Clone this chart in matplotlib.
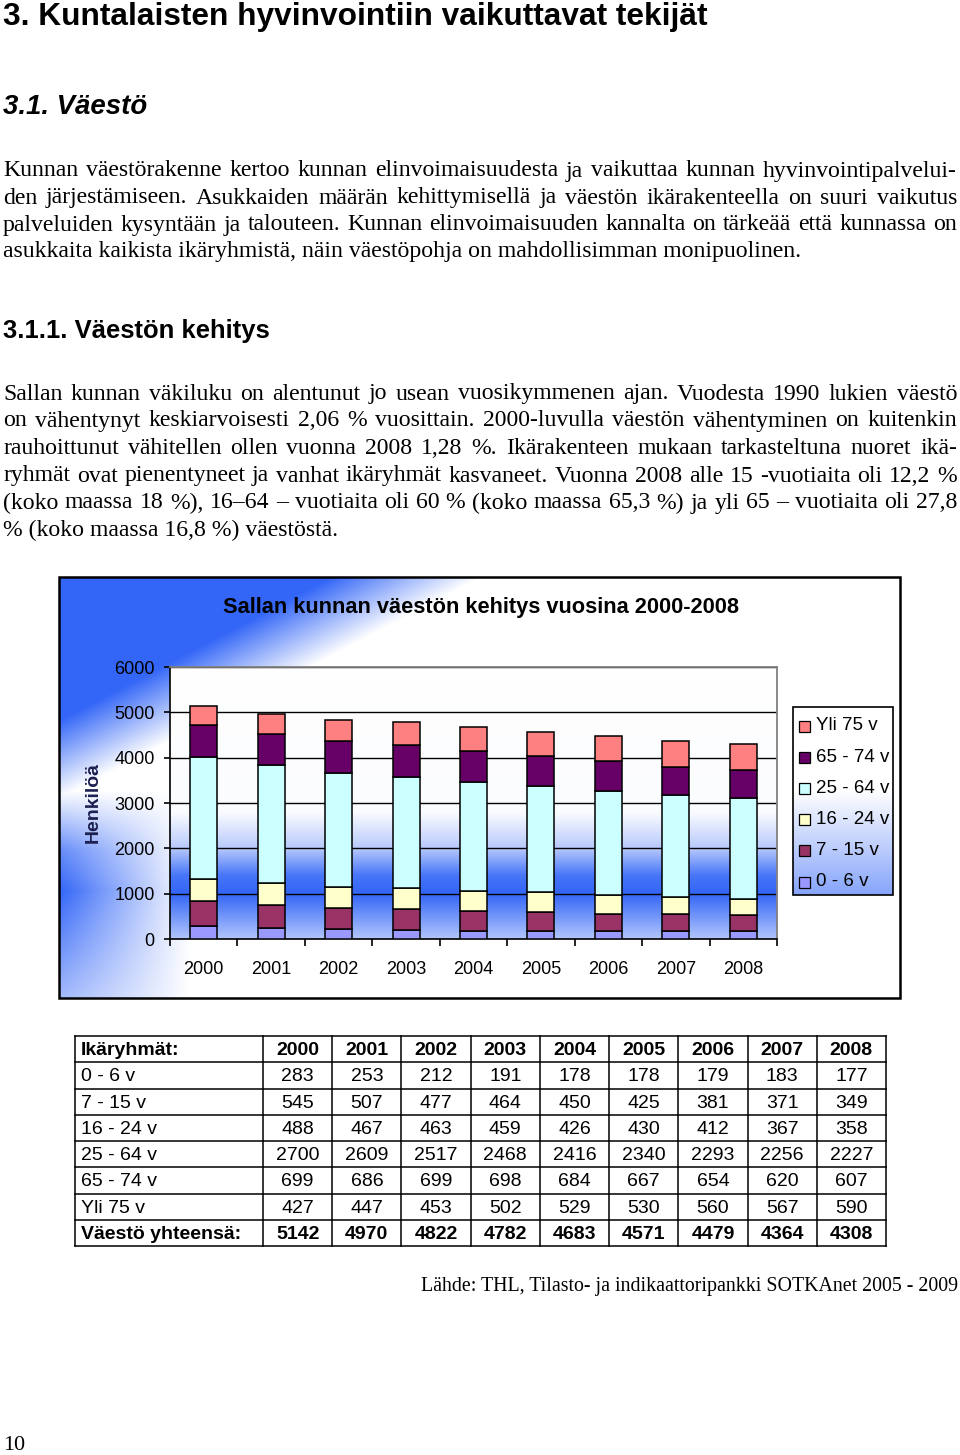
import numpy as np
import matplotlib
matplotlib.use('Agg')
import matplotlib.pyplot as plt
from matplotlib.patches import Rectangle

plt.rcParams['font.family'] = ['Liberation Sans', 'DejaVu Sans']

years = ['2000', '2001', '2002', '2003', '2004', '2005', '2006', '2007', '2008']
groups = ['0 - 6 v', '7 - 15 v', '16 - 24 v', '25 - 64 v', '65 - 74 v', 'Yli 75 v']
age_0_6 = [283, 253, 212, 191, 178, 178, 179, 183, 177]
age_7_15 = [545, 507, 477, 464, 450, 425, 381, 371, 349]
age_16_24 = [488, 467, 463, 459, 426, 430, 412, 367, 358]
age_25_64 = [2700, 2609, 2517, 2468, 2416, 2340, 2293, 2256, 2227]
age_65_74 = [699, 686, 699, 698, 684, 667, 654, 620, 607]
age_75 = [427, 447, 453, 502, 529, 530, 560, 567, 590]
totals = [5142, 4970, 4822, 4782, 4683, 4571, 4479, 4364, 4308]
series = [age_0_6, age_7_15, age_16_24, age_25_64, age_65_74, age_75]
colors = ['#9999ff', '#993366', '#ffffcc', '#ccffff', '#660066', '#ff8080']

p1_lines = [
    "Kunnan väestörakenne kertoo kunnan elinvoimaisuudesta ja vaikuttaa kunnan hyvinvointipalvelui-",
    "den järjestämiseen. Asukkaiden määrän kehittymisellä ja väestön ikärakenteella on suuri vaikutus",
    "palveluiden kysyntään ja talouteen. Kunnan elinvoimaisuuden kannalta on tärkeää että kunnassa on",
    "asukkaita kaikista ikäryhmistä, näin väestöpohja on mahdollisimman monipuolinen.",
]
p2_lines = [
    "Sallan kunnan väkiluku on alentunut jo usean vuosikymmenen ajan. Vuodesta 1990 lukien väestö",
    "on vähentynyt keskiarvoisesti 2,06 % vuosittain. 2000-luvulla väestön vähentyminen on kuitenkin",
    "rauhoittunut vähitellen ollen vuonna 2008 1,28 %. Ikärakenteen mukaan tarkasteltuna nuoret ikä-",
    "ryhmät ovat pienentyneet ja vanhat ikäryhmät kasvaneet. Vuonna 2008 alle 15 -vuotiaita oli 12,2 %",
    "(koko maassa 18 %), 16–64 – vuotiaita oli 60 % (koko maassa 65,3 %) ja yli 65 – vuotiaita oli 27,8",
    "% (koko maassa 16,8 %) väestöstä.",
]

W, H = 960, 1455
fig = plt.figure(figsize=(9.6, 14.55), dpi=100)
page = fig.add_axes([0, 0, 1, 1])
page.axis('off')
renderer = fig.canvas.get_renderer()
SERIF = ['Liberation Serif', 'DejaVu Serif']
BLUE = np.array([0.20, 0.40, 0.97])


def width_of(t):
    return t.get_window_extent(renderer).width


def fit_text(x, y, s, target, **kw):
    t = page.text(x, y, s, fontsize=20, **kw)
    t.set_fontsize(20 * target / width_of(t))
    return t


def justify(y, line, size, x0=3, x1=957):
    words = line.split(' ')
    ts = [page.text(0, y, w, fontsize=size, family=SERIF, va='center') for w in words]
    ws = [width_of(t) for t in ts]
    gap = (x1 - x0 - sum(ws)) / (len(ws) - 1)
    x = x0
    for t, w in zip(ts, ws):
        t.set_x(x)
        x += w + gap


def blend(w):
    w = np.clip(w, 0, 1)[..., None]
    return (1 - w) * np.ones(3) + w * BLUE


# headings
fit_text(3, 17, '3. Kuntalaisten hyvinvointiin vaikuttavat tekijät', 702,
         fontweight='bold', va='center')
fit_text(3, 107, '3.1. Väestö', 144, fontweight='bold', style='italic', va='center')
fit_text(3, 331, '3.1.1. Väestön kehitys', 266, fontweight='bold', va='center')

# body text
probe = page.text(0, -100, p1_lines[-1], fontsize=16, family=SERIF)
body_size = 16 * 799 / width_of(probe)
probe.remove()
for i, line in enumerate(p1_lines):
    y = 171 + i * 27
    if i < len(p1_lines) - 1:
        justify(y, line, body_size)
    else:
        page.text(3, y, line, fontsize=body_size, family=SERIF, va='center')
p2_y = [394, 421, 448, 476, 503, 530]
for i, line in enumerate(p2_lines):
    if i < len(p2_lines) - 1:
        justify(p2_y[i], line, body_size)
    else:
        page.text(3, p2_y[i], line, fontsize=body_size, family=SERIF, va='center')

# chart background
cx0, cy0, cx1, cy1 = 59, 577, 900, 998
X, Y = np.meshgrid(np.arange(cx0, cx1), np.arange(cy0, cy1))
u = (X - cx0) + 1.9 * (Y - cy0)
w_top = (421 - u) / 150
f_y = np.interp(Y, [790, 850, 890, 998], [0, 0.75, 1.0, 0.45])
w_left = np.clip(1 - (X - cx0) / 130, 0, 1) * f_y
bg = blend(np.maximum(np.clip(w_top, 0, 1), w_left))
page.imshow(bg, extent=[cx0, cx1, cy1, cy0], aspect='auto', zorder=0)
page.add_patch(Rectangle((cx0, cy0), cx1 - cx0, cy1 - cy0, fill=False, lw=1.8,
                         ec='black', zorder=2))

# chart title and y label
fit_text(481, 607, 'Sallan kunnan väestön kehitys vuosina 2000-2008', 514,
         fontweight='bold', ha='center', va='center', zorder=3)
page.text(93, 803, 'Henkilöä', rotation=90, fontsize=14, fontweight='bold',
          color='#1c2050', ha='center', va='center', zorder=3)

# legend
lx0, ly0, lx1, ly1 = 793, 707, 893, 895
LY = np.arange(ly0, ly1)[:, None] * np.ones((1, lx1 - lx0))
page.imshow(blend(np.clip((LY - 790) / 105, 0, 1) * 0.6),
            extent=[lx0, lx1, ly1, ly0], aspect='auto', zorder=1)
page.add_patch(Rectangle((lx0, ly0), lx1 - lx0, ly1 - ly0, fill=False, lw=1.2,
                         ec='black', zorder=2))
for k, (lab, c) in enumerate(zip(groups[::-1], colors[::-1])):
    yc = 726 + k * 31.2
    page.add_patch(Rectangle((799, yc - 5.5), 11, 11, fc=c, ec='black', lw=0.9, zorder=3))
    page.text(816, yc, lab, fontsize=13.5, va='center', zorder=3)

# table
tx0, tx1, col0 = 75, 886, 263
ty0, row_h = 1036, 26.25
col_w = (tx1 - col0) / len(years)
n_rows = len(groups) + 2
for r in range(n_rows + 1):
    page.plot([tx0, tx1], [ty0 + r * row_h] * 2, color='black', lw=1.1)
for cxl in [tx0] + [col0 + k * col_w for k in range(len(years) + 1)]:
    page.plot([cxl, cxl], [ty0, ty0 + n_rows * row_h], color='black', lw=1.1)
rows = [('Ikäryhmät:', years, 'bold')]
rows += [(g, [str(v) for v in s], 'normal') for g, s in zip(groups, series)]
rows += [('Väestö yhteensä:', [str(v) for v in totals], 'bold')]
for r, (lab, vals, fw) in enumerate(rows):
    yc = ty0 + (r + 0.5) * row_h + 1.5
    page.text(81, yc, lab, fontsize=14, fontweight=fw, va='center')
    for k, v in enumerate(vals):
        page.text(col0 + (k + 0.5) * col_w, yc, v, fontsize=14, fontweight=fw,
                  ha='center', va='center')

# source and page number
fit_text(958, 1286, 'Lähde: THL, Tilasto- ja indikaattoripankki SOTKAnet 2005 - 2009', 536,
         family=SERIF, ha='right', va='center')
fit_text(3, 1445, '10', 22, family=SERIF, va='center')

page.set_xlim(0, W)
page.set_ylim(H, 0)

# plot area
ax = fig.add_axes([170 / W, 1 - 939 / H, (777 - 170) / W, (939 - 667) / H])
vv = np.linspace(6000, 0, 400)[:, None] * np.ones((1, 10))
pa = blend(np.interp(vv, [0, 1000, 1400, 2000, 2800, 6000], [0.38, 1.0, 0.9, 0.35, 0.02, 0.0]))
ax.imshow(pa, extent=[-0.5, 8.5, 0, 6000], aspect='auto', zorder=0)

x = np.arange(len(years))
bottom = np.zeros(len(years))
for vals, c in zip(series, colors):
    ax.bar(x, vals, 0.4, bottom=bottom, color=c, edgecolor='black', linewidth=1.1, zorder=3)
    bottom += np.array(vals)

ax.set_xlim(-0.5, 8.5)
ax.set_ylim(0, 6000)
ax.set_yticks(range(0, 7000, 1000))
ax.set_xticks(x)
ax.set_xticklabels(years)
ax.set_xticks(np.arange(-0.5, 9, 1), minor=True)
ax.tick_params(axis='x', which='major', length=0, pad=16, labelsize=13)
ax.tick_params(axis='x', which='minor', length=5, width=1.2, direction='out')
ax.tick_params(axis='y', length=4, width=1.2, pad=7, labelsize=13)
ax.yaxis.grid(True, color='black', lw=1.0)
for side in ['top', 'right']:
    ax.spines[side].set_color('#808080')
    ax.spines[side].set_linewidth(1.3)
for side in ['left', 'bottom']:
    ax.spines[side].set_linewidth(1.2)

fig.savefig('out.png', dpi=100)
